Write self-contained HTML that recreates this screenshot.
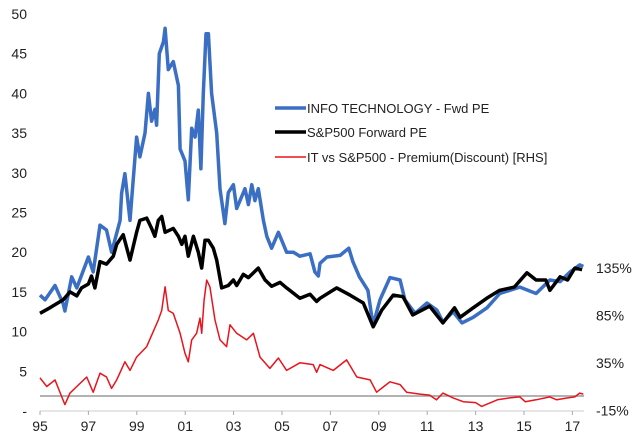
<!DOCTYPE html>
<html><head><meta charset="utf-8"><style>
html,body{margin:0;padding:0;background:#fff;}
svg text{font-family:"Liberation Sans",Arial,sans-serif;fill:#222;}
</style></head><body>
<svg id="chart" width="640" height="437" viewBox="0 0 640 437" xmlns="http://www.w3.org/2000/svg"></svg>
<script>
const itYears=[0,0.21,0.62,0.96,1.03,1.31,1.52,2.0,2.2,2.48,2.75,2.96,3.31,3.37,3.51,3.72,3.99,4.13,4.34,4.48,4.61,4.75,4.82,4.93,5.10,5.17,5.30,5.51,5.72,5.79,5.99,6.13,6.27,6.41,6.54,6.65,6.75,6.86,6.96,7.09,7.30,7.44,7.64,7.78,7.99,8.13,8.47,8.61,8.75,8.88,9.02,9.23,9.37,9.57,9.85,10.19,10.47,10.74,11.16,11.36,11.50,11.57,11.86,12.4,12.76,12.93,13.2,13.55,13.76,14.05,14.46,14.88,15.08,15.5,15.99,16.4,16.65,17.07,17.44,17.9,18.47,19.0,19.83,20.5,21.07,21.49,21.9,22.3,22.45];
const itPE=[14.6,14,15.8,13.5,12.6,16.9,15.5,19.4,17.5,23.4,22.8,20,24,27.4,29.9,24,34.5,32,35,40,36.5,38,36,45,46.5,48.2,43,44,41,33,31.5,26.6,35.6,34.5,37.9,30.5,40,47.5,47.5,40,35,28,23.6,27.5,28.5,25.5,28,26,28.5,26.5,28,24,22,20.5,22.5,20,20,19.5,19.8,17.5,17,18.6,19.4,19.6,20.5,18.8,16.9,15.2,10.8,14,16.8,16.5,14,12.3,13.6,12.7,11.2,12.5,11.1,11.8,13,14.8,15.6,14.8,16.5,16.3,17.5,18.4,18.2];
const spYears=[0,0.41,0.96,1.24,1.52,1.72,2.0,2.13,2.27,2.48,2.75,3.03,3.17,3.44,3.72,3.99,4.13,4.41,4.61,4.75,4.89,5.03,5.17,5.51,5.72,5.86,5.99,6.13,6.34,6.54,6.68,6.82,6.96,7.16,7.30,7.51,7.78,7.99,8.13,8.40,8.61,9.02,9.30,9.57,9.92,10.19,10.74,11.16,11.43,11.57,12.26,12.81,13.36,13.77,14.12,14.6,15.0,15.4,16.1,16.65,17.13,17.36,17.9,18.46,19.0,19.6,20.12,20.5,20.9,21.07,21.49,21.8,22.1,22.4];
const spPE=[12.3,13,14,15,14.5,15.5,16,17,15.5,18.8,18.5,19.5,21,22.2,19,22.5,24,24.3,23,22,24,24.5,22.5,23,22,21,22,19.5,22,20,18,21.5,21.5,20.5,19,15.5,15.8,16.5,15.8,17.2,16.8,18,16.5,15.7,16.2,15.5,14.2,14.7,13.8,14.2,15.5,14.6,13.6,10.6,12.7,14.6,14.4,12.1,13.2,11.1,13,11.8,13,14.2,15.2,15.6,17.4,16.5,16.5,15.2,16.9,16.5,18,17.8];
const premYears=[0,0.28,0.62,1.03,1.24,1.52,1.93,2.2,2.48,2.75,2.96,3.17,3.51,3.72,3.99,4.41,4.68,4.89,5.03,5.17,5.30,5.51,5.79,5.99,6.13,6.27,6.47,6.61,6.68,6.78,6.89,7.02,7.23,7.44,7.71,7.85,8.13,8.54,8.82,9.09,9.50,9.85,10.19,10.74,11.29,11.43,11.57,12.12,12.67,13.09,13.64,13.91,14.46,14.88,15.15,15.7,16.1,16.38,16.65,17.07,17.49,18.0,18.25,18.9,19.4,19.83,20.05,20.5,21.07,21.35,21.8,22.1,22.3,22.45];
const premPct=[19,10,17,-9,3,10,20,4,24,20,8,17,36,27,41,52,68,80,90,115,90,87,66,45,36,59,66,82,66,101,122,115,80,59,52,75,66,59,66,41,29,40,27,35,33,25,33,27,38,20,17,4,15,12,4,2,1,-4,3,-2,-6,-7,-11,-4,-2,-1,-6,-4,-1,-4,-2,-1,3,2];
const leftTicks=[0,5,10,15,20,25,30,35,40,45,50];
const leftLabels=["-","5","10","15","20","25","30","35","40","45","50"];
const rightTicks=[-15,35,85,135];
const xTicks=[0,2,4,6,8,10,12,14,16,18,20,22];
const xLabels=["95","97","99","01","03","05","07","09","11","13","15","17"];

const NS="http://www.w3.org/2000/svg";
const svg=document.getElementById('chart');
const xS=t=>40+t*24.2;
const yL=v=>411-v*7.94;
const yR=p=>396-p*0.95;
function mk(tag,attrs){const e=document.createElementNS(NS,tag);for(const k in attrs)e.setAttribute(k,attrs[k]);svg.appendChild(e);return e;}

leftTicks.forEach((v,i)=>{const t=mk('text',{x:27,y:yL(v)+5,'text-anchor':'end','font-size':'14'});t.textContent=leftLabels[i];

});
rightTicks.forEach(v=>{const t=mk('text',{x:596,y:yR(v)+5,'font-size':'14'});t.textContent=v+'%';

});
const ax=mk('line',{x1:40,x2:584,y1:411,y2:411,stroke:'#ccc','stroke-width':1});


xTicks.forEach((v,i)=>{const tk=mk('line',{x1:xS(v),x2:xS(v),y1:411,y2:415,stroke:'#aaa'});


const t=mk('text',{x:xS(v),y:431,'text-anchor':'middle','font-size':'14'});t.textContent=xLabels[i];

});
const zl=mk('line',{x1:40,x2:584,y1:yR(0),y2:yR(0),stroke:'#999','stroke-width':1.5});



function line(xs,ys,yf,color,w,name){const d=xs.map((x,i)=>(i?'L':'M')+xS(x).toFixed(1)+','+yf(ys[i]).toFixed(1)).join('');
const p=mk('path',{d:d,fill:'none',stroke:color,'stroke-width':w,'stroke-linejoin':'round'});

}
line(premYears,premPct,yR,'#e8141c',1.5,'premium-line');
line(itYears,itPE,yL,'#3a6fc4',3.5,'it-fwd-pe-line');
line(spYears,spPE,yL,'#000',3.5,'sp500-fwd-pe-line');

const leg=[['#3a6fc4',3.5,'INFO TECHNOLOGY - Fwd PE',108],['#000',3.5,'S&P500 Forward PE',132],['#e8141c',1.5,'IT vs S&P500 - Premium(Discount) [RHS]',157]];
leg.forEach(l=>{const ln=mk('line',{x1:275,x2:306,y1:l[3],y2:l[3],stroke:l[0],'stroke-width':l[1]});


const t=mk('text',{x:307,y:l[3]+5,'font-size':'13'});t.textContent=l[2];

});
</script>
</body></html>
